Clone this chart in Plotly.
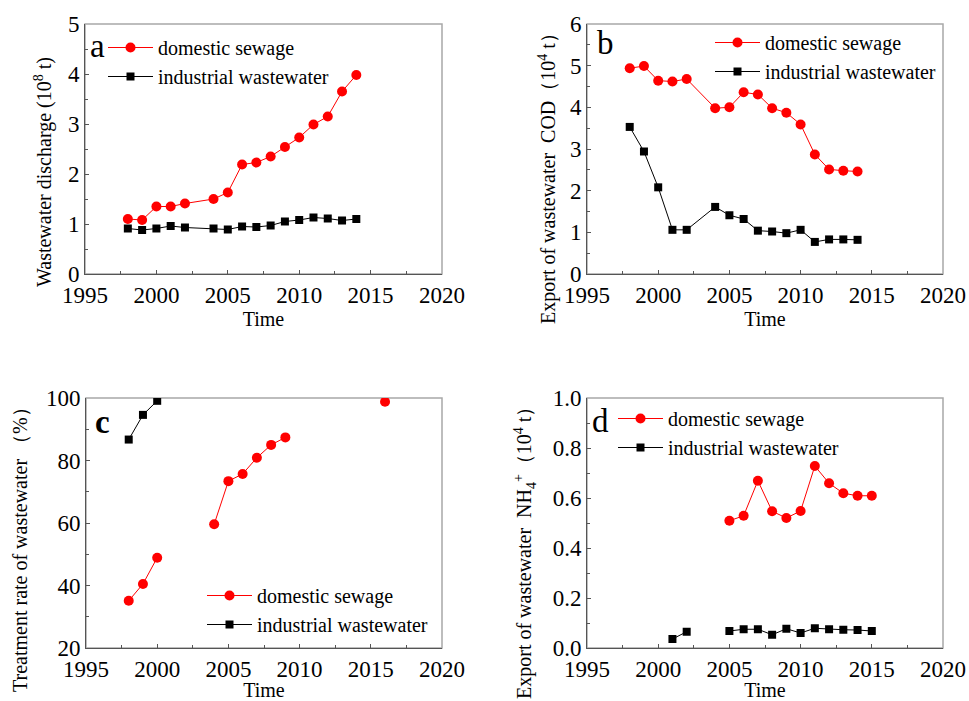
import plotly.graph_objects as go

# ---------------- data ----------------
years_a = [1998, 1999, 2000, 2001, 2002, 2004, 2005, 2006, 2007, 2008, 2009, 2010, 2011, 2012, 2013, 2014]
a_domestic = [1.10, 1.08, 1.35, 1.35, 1.41, 1.50, 1.63, 2.19, 2.23, 2.35, 2.54, 2.73, 2.99, 3.15, 3.65, 3.98]
a_industrial = [0.91, 0.88, 0.91, 0.96, 0.93, 0.91, 0.89, 0.95, 0.94, 0.97, 1.05, 1.08, 1.13, 1.11, 1.07, 1.10]

years_b = [1998, 1999, 2000, 2001, 2002, 2004, 2005, 2006, 2007, 2008, 2009, 2010, 2011, 2012, 2013, 2014]
b_domestic = [4.94, 4.99, 4.64, 4.62, 4.68, 3.98, 4.00, 4.36, 4.31, 3.98, 3.87, 3.59, 2.87, 2.51, 2.48, 2.46]
b_industrial = [3.53, 2.94, 2.08, 1.06, 1.06, 1.61, 1.41, 1.32, 1.04, 1.02, 0.98, 1.06, 0.77, 0.83, 0.83, 0.82]

years_c = [1998, 1999, 2000, 2001, 2002, 2003, 2004, 2005, 2006, 2007, 2008, 2009,
           2010, 2011, 2012, 2013, 2014, 2015, 2016]
c_domestic = [35.1, 40.5, 48.9, None, None, None, 59.6, 73.4, 75.7, 80.9, 85.0, 87.4,
              None, None, None, None, None, None, 98.8]
years_c_ind = [1998, 1999, 2000]
c_industrial = [86.7, 94.6, 99.1]

years_d_dom = [2005, 2006, 2007, 2008, 2009, 2010, 2011, 2012, 2013, 2014, 2015]
d_domestic = [0.509, 0.529, 0.669, 0.547, 0.520, 0.548, 0.728, 0.659, 0.619, 0.609, 0.609]
years_d_ind = [2001, 2002, 2003, 2004, 2005, 2006, 2007, 2008, 2009, 2010, 2011, 2012, 2013, 2014, 2015]
d_industrial = [0.036, 0.065, None, None, 0.068, 0.075, 0.075, 0.053, 0.077, 0.060, 0.079, 0.075, 0.073, 0.072, 0.068]

# ---------------- layout helpers ----------------
W, H = 969, 701
FONT = "Liberation Serif"
RED = "#ff0000"
BLACK = "#000000"

def px_x(p):
    return p / W

def px_y(p):
    return 1 - p / H

panels = {
    # name: (x0, x1, y0_top, y1_bottom) in pixels
    "1": (85, 442, 24, 274),
    "2": (587, 943, 24, 274),
    "3": (86, 442, 398, 648),
    "4": (587, 943, 398, 648),
}

fig = go.Figure()

def add_pair(idx, xd, yd, xi, yi, legend_name):
    xa = "x" if idx == "1" else "x" + idx
    ya = "y" if idx == "1" else "y" + idx
    fig.add_trace(go.Scatter(
        x=xd, y=yd, name="domestic sewage", mode="lines+markers",
        line=dict(color=RED, width=1),
        marker=dict(symbol="circle", size=10, color=RED),
        connectgaps=False, xaxis=xa, yaxis=ya, legend=legend_name))
    fig.add_trace(go.Scatter(
        x=xi, y=yi, name="industrial wastewater", mode="lines+markers",
        line=dict(color=BLACK, width=1),
        marker=dict(symbol="square", size=8, color=BLACK),
        connectgaps=False, xaxis=xa, yaxis=ya, legend=legend_name))

add_pair("1", years_a, a_domestic, years_a, a_industrial, "legend")
add_pair("2", years_b, b_domestic, years_b, b_industrial, "legend2")
add_pair("3", years_c, c_domestic, years_c_ind, c_industrial, "legend3")
add_pair("4", years_d_dom, d_domestic, years_d_ind, d_industrial, "legend4")

yranges = {"1": ([0, 5], 1, 0.5), "2": ([0, 6], 1, 0.5), "3": ([20, 100], 20, 10), "4": ([0, 1.0], 0.2, 0.1)}
yfmt = {"1": "", "2": "", "3": "", "4": ".1f"}

layout = dict(
    width=W, height=H,
    margin=dict(l=0, r=0, t=0, b=0),
    paper_bgcolor="white", plot_bgcolor="white",
    font=dict(family=FONT, color="black", size=19),
    showlegend=True,
)

axis_line = "#555555"
for idx, (x0, x1, yt, yb) in panels.items():
    xkey = "xaxis" if idx == "1" else "xaxis" + idx
    ykey = "yaxis" if idx == "1" else "yaxis" + idx
    xa = "x" if idx == "1" else "x" + idx
    ya = "y" if idx == "1" else "y" + idx
    layout[xkey] = dict(
        domain=[px_x(x0), px_x(x1)], anchor=ya, range=[1995, 2020],
        tickmode="linear", tick0=1995, dtick=5,
        ticks="inside", ticklen=4, tickcolor=axis_line,
        minor=dict(ticks="inside", ticklen=3, dtick=2.5, tickcolor=axis_line),
        showline=True, linecolor=axis_line, linewidth=1, mirror=False,
        showgrid=False, zeroline=False,
        tickfont=dict(family=FONT, size=23, color="black"),
        title=dict(text="Time", font=dict(family=FONT, size=20), standoff=4),
        automargin=False,
    )
    rng, dt, mdt = yranges[idx]
    layout[ykey] = dict(
        domain=[px_y(yb), px_y(yt)], anchor=xa, range=rng,
        tickmode="linear", tick0=rng[0], dtick=dt, tickformat=yfmt[idx],
        ticks="inside", ticklen=4, tickcolor=axis_line,
        minor=dict(ticks="inside", ticklen=3, dtick=mdt, tickcolor=axis_line),
        showline=True, linecolor=axis_line, linewidth=1, mirror=False,
        showgrid=False, zeroline=False,
        tickfont=dict(family=FONT, size=23, color="black"),
        automargin=False,
    )

# frames (light grey box around each plot area)
shapes = []
for idx, (x0, x1, yt, yb) in panels.items():
    xa = "x" if idx == "1" else "x" + idx
    ya = "y" if idx == "1" else "y" + idx
    shapes.append(dict(type="rect", xref=xa + " domain", yref=ya + " domain",
                       x0=0, x1=1, y0=0, y1=1, line=dict(color="#a8a8a8", width=1.5),
                       layer="below"))
layout["shapes"] = shapes

# legends
leg_pos = {"legend": (103, 28), "legend2": (710, 23), "legend3": (202, 576), "legend4": (613, 399)}
for lk, (lx, ly) in leg_pos.items():
    layout[lk] = dict(x=px_x(lx), y=px_y(ly), xanchor="left", yanchor="top",
                      bgcolor="rgba(0,0,0,0)", borderwidth=0,
                      font=dict(family=FONT, size=20, color="black"),
                      tracegroupgap=0, itemwidth=45)

# annotations: panel letters and y-axis titles
ann = []
letters = [("a", 97, 46), ("b", 605, 43), ("<b>c</b>", 102, 422), ("d", 600, 421)]
for t, x, y in letters:
    ann.append(dict(text=t, x=px_x(x), y=px_y(y), xref="paper", yref="paper",
                    xanchor="center", yanchor="middle", showarrow=False,
                    font=dict(family=FONT, size=33, color="black")))

ytitles = [
    ("Wastewater discharge (10<sup>8</sup> t)", 43, 172),
    ("Export of wastewater  COD（10<sup>4</sup> t）", 547, 174),
    ("Treatment rate of wastewater （%）", 20, 545),
    ("Export of wastewater  NH<sub>4</sub><sup>+</sup>（10<sup>4</sup> t）", 525, 548),
]
for t, x, y in ytitles:
    ann.append(dict(text=t, x=px_x(x), y=px_y(y), xref="paper", yref="paper",
                    xanchor="center", yanchor="middle", showarrow=False, textangle=-90,
                    font=dict(family=FONT, size=20, color="black")))
layout["annotations"] = ann

fig.update_layout(**layout)
fig.write_html("out.html")
